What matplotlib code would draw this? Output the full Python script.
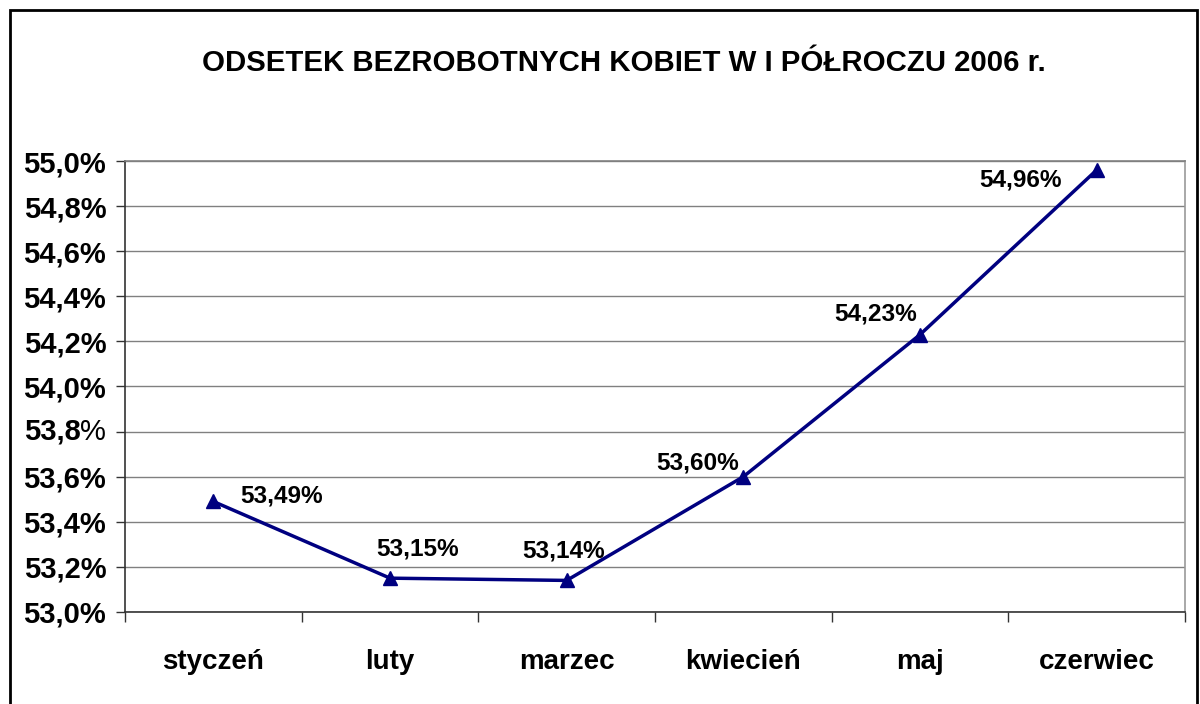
import numpy as np
import matplotlib.pyplot as plt
from matplotlib.patches import Rectangle
from matplotlib.ticker import FixedLocator

plt.rcParams["font.family"] = ["Liberation Sans", "DejaVu Sans"]

# Data
months = ["styczeń", "luty", "marzec", "kwiecień", "maj", "czerwiec"]
values = [53.49, 53.15, 53.14, 53.60, 54.23, 54.96]
labels = ["53,49%", "53,15%", "53,14%", "53,60%", "54,23%", "54,96%"]
# label offsets in points (dx, dy) relative to each point
label_offsets = [(49, 4), (20, 21), (-2, 21), (-33, 10), (-32, 15), (-55, -7)]
yticks = np.arange(53.0, 55.01, 0.2)

fig = plt.figure(figsize=(12, 7.04), dpi=100)
ax = fig.add_axes([0.1042, 0.1307, 0.8833, 0.6406])

x = np.arange(len(months))
ax.plot(x, values, color="#000080", lw=2.5, marker="^", markersize=10, zorder=3)

for xi, v, lab, (dx, dy) in zip(x, values, labels, label_offsets):
    ax.annotate(lab, (xi, v), xytext=(dx, dy), textcoords="offset points",
                ha="center", va="center", fontsize=17.6, fontweight="bold")

ax.set_xlim(-0.5, len(months) - 0.5)
ax.set_ylim(53.0, 55.0)

# y axis
ax.set_yticks(yticks)
ytick_labels = []
for t in yticks:
    s = f"{t:.1f}".replace(".", ",") + "%"
    if abs(t - 53.8) < 1e-6:
        s = ""
    ytick_labels.append(s)
ax.set_yticklabels(ytick_labels, fontsize=21, fontweight="bold")
ax.tick_params(axis="y", direction="out", length=6.5, width=1, pad=7, color="#333333")
# 53,8% drawn with a plain percent sign, as in the original
pad_pt = 7 + 6.5
ax.annotate("%", (0, 53.8), xycoords=("axes fraction", "data"),
            xytext=(-pad_pt, 0), textcoords="offset points",
            ha="right", va="center", fontsize=21)
ax.annotate("53,8", (0, 53.8), xycoords=("axes fraction", "data"),
            xytext=(-pad_pt - 0.889 * 21, 0), textcoords="offset points",
            ha="right", va="center", fontsize=21, fontweight="bold")

# x axis: labels at centres, ticks between categories
ax.set_xticks(x)
ax.set_xticklabels(months, fontsize=20, fontweight="bold")
ax.tick_params(axis="x", which="major", length=0, pad=27)
ax.xaxis.set_minor_locator(FixedLocator(np.arange(-0.5, len(months), 1.0)))
ax.tick_params(axis="x", which="minor", direction="out", length=7, width=1, color="#333333")

ax.grid(axis="y", color="#808080", lw=1)
ax.set_axisbelow(True)
ax.spines["left"].set_color("#333333")
ax.spines["bottom"].set_color("#333333")
ax.spines["right"].set_color("#999999")
ax.spines["top"].set_color("#808080")
for sp in ax.spines.values():
    sp.set_linewidth(1.2)

fig.text(0.52, 0.91, "ODSETEK BEZROBOTNYCH KOBIET W I PÓŁROCZU 2006 r.",
         ha="center", va="center", fontsize=21.2, fontweight="bold")

# outer chart frame
fig.patches.append(Rectangle((0.0083, -0.05), 0.9892, 1.0358, transform=fig.transFigure,
                             fill=False, edgecolor="black", lw=2))

fig.savefig("out.png", dpi=100)
